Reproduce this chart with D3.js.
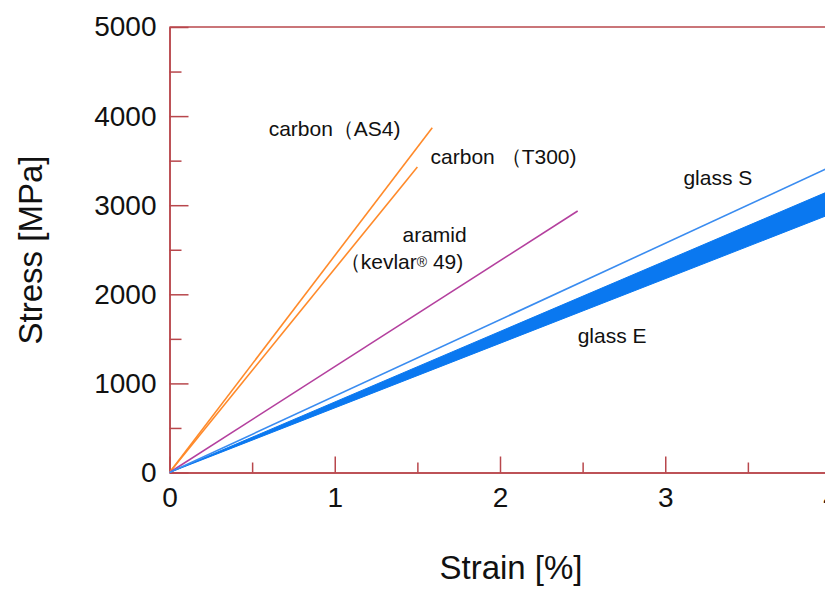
<!DOCTYPE html>
<html>
<head>
<meta charset="utf-8">
<script src="https://cdn.jsdelivr.net/npm/d3@7"></script>
<style>
  body { margin: 0; background: #fff; }
  text { font-family: "Liberation Sans", Arial, sans-serif; fill: #111; }
</style>
</head>
<body>
<div id="chart"></div>
<script>
// end points of each fibre line (strain %, stress MPa), all start at 0,0
var lineNames   = ["carbon AS4", "carbon T300", "aramid", "glass S"];
var lineStrain  = [1.59, 1.50, 2.47, 4.0];
var lineStress  = [3870, 3430, 2935, 3430];
var lineColors  = ["#ff8a2a", "#ff8a2a", "#b4409e", "#3a8cf0"];

// glass E is a band between two moduli
var bandStrain = [0, 4.0, 4.0];
var bandStress = [0, 3165, 2900];

var xTicks = [0, 1, 2, 3, 4];
var xMinor = [0.5, 1.5, 2.5, 3.5];
var yTicks = [0, 1000, 2000, 3000, 4000, 5000];
var yMinor = [500, 1500, 2500, 3500, 4500];

var labels = [
  {t: "carbon（AS4)", x: 0.6, y: 3775},
  {t: "carbon （T300)", x: 1.58, y: 3460},
  {t: "aramid", x: 1.41, y: 2590},
  {t: "（kevlar", sup: "®", rest: " 49)", x: 1.03, y: 2285},
  {t: "glass S", x: 3.11, y: 3225},
  {t: "glass E", x: 2.47, y: 1450}
];

(function () {
  var W = 825, H = 590;
  var left = 169.5, plotTop = 27, bottom = 472.5;
  var axisColor = "#b8474c";

  var svg = d3.select("#chart").append("svg")
    .attr("width", W).attr("height", H);

  var x = d3.scaleLinear().domain([0, 4]).range([left, left + 661]);
  var y = d3.scaleLinear().domain([0, 5000]).range([bottom, plotTop]);

  // top border
  svg.append("line")
    .attr("x1", left).attr("x2", W + 10)
    .attr("y1", plotTop).attr("y2", plotTop)
    .style("stroke", axisColor).style("stroke-width", 1.5);

  function styleAxis(g) {
    g.selectAll("path, line").style("stroke", axisColor).style("stroke-width", 1.5);
    g.selectAll("text").style("font-size", "28px").style("fill", "#111")
      .style("font-family", "'Liberation Sans', Arial, sans-serif");
  }

  svg.append("g").attr("transform", "translate(0," + bottom + ")")
    .call(d3.axisBottom(x).tickValues(xMinor).tickSize(-10).tickSizeOuter(0).tickFormat(""))
    .call(styleAxis);
  svg.append("g").attr("transform", "translate(0," + bottom + ")")
    .call(d3.axisBottom(x).tickValues(xTicks).tickSize(-16).tickSizeOuter(0).tickPadding(15).tickFormat(d3.format("d")))
    .call(function (g) { g.select(".domain").attr("d", "M" + left + ",0.5H" + (W + 10)); })
    .call(styleAxis);

  svg.append("g").attr("transform", "translate(" + left + ",0)")
    .call(d3.axisLeft(y).tickValues(yMinor).tickSize(-12).tickSizeOuter(0).tickFormat(""))
    .call(styleAxis);
  svg.append("g").attr("transform", "translate(" + left + ",0)")
    .call(d3.axisLeft(y).tickValues(yTicks).tickSize(-19).tickSizeOuter(0).tickPadding(13).tickFormat(d3.format("d")))
    .call(styleAxis);

  // glass E band
  var line = d3.line().x(function (d) { return x(d[0]); }).y(function (d) { return y(d[1]); });
  var band = bandStrain.map(function (s, i) { return [s, bandStress[i]]; });
  svg.append("path")
    .attr("d", line(band) + "Z")
    .style("fill", "#0a78f0").style("stroke", "#0a78f0").style("stroke-width", 1);

  svg.selectAll(".fibre")
    .data(lineNames)
    .enter()
    .append("path")
    .attr("class", "fibre")
    .attr("d", function (d, i) { return line([[0, 0], [lineStrain[i], lineStress[i]]]); })
    .style("fill", "none")
    .style("stroke", function (d, i) { return lineColors[i]; })
    .style("stroke-width", 1.6);

  var lab = svg.selectAll(".lab")
    .data(labels)
    .enter()
    .append("text")
    .attr("class", "lab")
    .attr("x", function (d) { return x(d.x); })
    .attr("y", function (d) { return y(d.y); })
    .style("font-size", "21px")
    .text(function (d) { return d.t; });
  lab.filter(function (d) { return d.sup; })
    .append("tspan").style("font-size", "14px").attr("dy", -2).text(function (d) { return d.sup; });
  lab.filter(function (d) { return d.rest; })
    .append("tspan").attr("dy", 2).text(function (d) { return d.rest; });

  // axis titles
  svg.append("text")
    .attr("x", 511).attr("y", 579)
    .attr("text-anchor", "middle")
    .style("font-size", "33px")
    .text("Strain [%]");
  svg.append("text")
    .attr("transform", "translate(42,250) rotate(-90)")
    .attr("text-anchor", "middle")
    .style("font-size", "33px")
    .text("Stress [MPa]");
})();
</script>
</body>
</html>
